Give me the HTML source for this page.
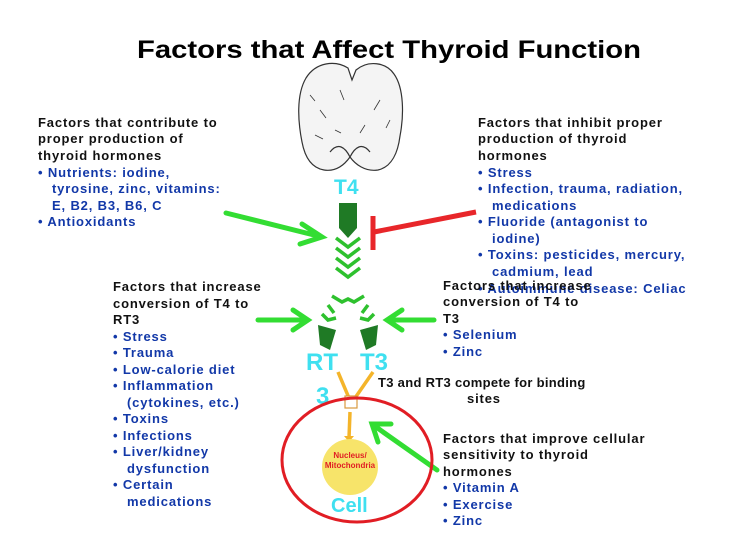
<!DOCTYPE html>
<html><head><meta charset="utf-8"><style>
body{margin:0;background:#fff;}
svg{display:block;font-family:"Liberation Sans",sans-serif;font-weight:bold;}
.k{fill:#111;font-size:13px;letter-spacing:0.85px}
.b{fill:#1238a8;font-size:13px;letter-spacing:0.85px}
</style></head><body>
<svg width="736" height="548" viewBox="0 0 736 548">
<rect width="736" height="548" fill="#fff"/>
<text x="137" y="58" font-size="25" fill="#000" textLength="504" lengthAdjust="spacingAndGlyphs">Factors that Affect Thyroid Function</text>
<!-- thyroid -->
<g fill="#f4f4f4" stroke="#333" stroke-width="1.2">
<path d="M348 68 C335 60 316 62 306 78 C296 95 298 122 302 142 C305 158 312 168 324 170 C337 172 345 164 350 157 C355 164 365 172 378 170 C392 167 398 152 400 136 C404 115 404 88 394 74 C386 62 368 60 356 70 L352 80 Z"/>
<path d="M330 152 C338 142 345 147 350 157 M370 152 C362 142 355 147 350 157" fill="none"/>
<path d="M320 110 l6 8 M380 100 l-6 10 M340 90 l4 10 M365 125 l-5 8 M315 135 l8 4 M310 95 l5 6 M390 120 l-4 8 M335 130 l6 3" fill="none" stroke-width="0.8"/>
</g>
<text x="334" y="194" font-size="21" fill="#3fe0f0">T4</text>
<!-- green flow -->
<path d="M339 203 L357 203 L357 228 L348 238 L339 228 Z" fill="#1f7a25"/>
<g fill="none" stroke="#2ec12e" stroke-width="3.5">
<path d="M336 238 l12 9 l12 -9"/><path d="M336 248 l12 9 l12 -9"/><path d="M336 258 l12 9 l12 -9"/><path d="M336 268 l12 9 l12 -9"/>
<path d="M332 296 l10 6 l6 -3 l6 3 l10 -6"/>
<path d="M328 305 l6 8 M322 314 l6 6 l8 -2"/>
<path d="M368 305 l-6 8 M374 314 l-6 6 l-8 -2"/>
</g>
<path d="M318 325 L336 330 L330 350 L320 345 Z" fill="#1f7a25"/>
<path d="M378 325 L360 330 L366 350 L376 345 Z" fill="#1f7a25"/>
<text x="306" y="370" font-size="24" fill="#3fe0f0">RT</text>
<text x="360" y="370" font-size="24" fill="#3fe0f0">T3</text>
<text x="316" y="404" font-size="24" fill="#3fe0f0">3</text>
<!-- green arrows -->
<g stroke="#33dd33" stroke-width="5" fill="none" stroke-linecap="round">
<path d="M226 213 L318 236"/><path d="M302 224 L322 237 L300 244"/>
<path d="M258 320 L305 320"/><path d="M293 310 L308 320 L293 330"/>
<path d="M434 320 L390 320"/><path d="M402 310 L387 320 L402 330"/>
<path d="M437 470 L376 427"/><path d="M378 442 L372 424 L391 424"/>
</g>
<!-- red inhibit -->
<g stroke="#e8262a" stroke-width="5" fill="none">
<path d="M476 212 L374 232"/><path d="M373 216 L373 250"/>
</g>
<!-- orange -->
<g stroke="#f4b42a" stroke-width="3.5" fill="none">
<path d="M338 372 L349 398"/><path d="M373 372 L355 398"/><path d="M350 412 L349 438"/>
</g>
<path d="M344 436 L349 442 L354 436 Z" fill="#f4b42a"/>
<rect x="345" y="396" width="12" height="12" fill="#fff" stroke="#d99a40" stroke-width="1.2"/>
<!-- cell -->
<ellipse cx="357" cy="460" rx="75" ry="62" fill="none" stroke="#e11d24" stroke-width="3"/>
<circle cx="350" cy="467" r="28" fill="#f7e46a"/>
<text x="350" y="458" font-size="8" fill="#e11d24" text-anchor="middle">Nucleus/</text>
<text x="350" y="468" font-size="8" fill="#e11d24" text-anchor="middle">Mitochondria</text>
<text x="331" y="512" font-size="20" fill="#3fe0f0">Cell</text>
<!-- left top -->
<text class="k" x="38" y="127">Factors that contribute to</text>
<text class="k" x="38" y="143">proper production of</text>
<text class="k" x="38" y="160">thyroid hormones</text>
<text class="b" x="38" y="177">• Nutrients: iodine,</text>
<text class="b" x="52" y="193">tyrosine, zinc, vitamins:</text>
<text class="b" x="52" y="210">E, B2, B3, B6, C</text>
<text class="b" x="38" y="226">• Antioxidants</text>
<!-- right top -->
<text class="k" x="478" y="127">Factors that inhibit proper</text>
<text class="k" x="478" y="143">production of thyroid</text>
<text class="k" x="478" y="160">hormones</text>
<text class="b" x="478" y="177">• Stress</text>
<text class="b" x="478" y="193">• Infection, trauma, radiation,</text>
<text class="b" x="492" y="210">medications</text>
<text class="b" x="478" y="226">• Fluoride (antagonist to</text>
<text class="b" x="492" y="243">iodine)</text>
<text class="b" x="478" y="259">• Toxins: pesticides, mercury,</text>
<text class="b" x="492" y="276">cadmium, lead</text>
<text class="b" x="478" y="293">• Autoimmune disease: Celiac</text>
<!-- left middle -->
<text class="k" x="113" y="291">Factors that increase</text>
<text class="k" x="113" y="308">conversion of T4 to</text>
<text class="k" x="113" y="324">RT3</text>
<text class="b" x="113" y="341">• Stress</text>
<text class="b" x="113" y="357">• Trauma</text>
<text class="b" x="113" y="374">• Low-calorie diet</text>
<text class="b" x="113" y="390">• Inflammation</text>
<text class="b" x="127" y="407">(cytokines, etc.)</text>
<text class="b" x="113" y="423">• Toxins</text>
<text class="b" x="113" y="440">• Infections</text>
<text class="b" x="113" y="456">• Liver/kidney</text>
<text class="b" x="127" y="473">dysfunction</text>
<text class="b" x="113" y="489">• Certain</text>
<text class="b" x="127" y="506">medications</text>
<!-- right middle -->
<text class="k" x="443" y="290">Factors that increase</text>
<text class="k" x="443" y="306">conversion of T4 to</text>
<text class="k" x="443" y="323">T3</text>
<text class="b" x="443" y="339">• Selenium</text>
<text class="b" x="443" y="356">• Zinc</text>
<text class="k" x="378" y="387" style="letter-spacing:0.3px">T3 and RT3 compete for binding</text>
<text class="k" x="467" y="403">sites</text>
<!-- bottom right -->
<text class="k" x="443" y="443">Factors that improve cellular</text>
<text class="k" x="443" y="459">sensitivity to thyroid</text>
<text class="k" x="443" y="476">hormones</text>
<text class="b" x="443" y="492">• Vitamin A</text>
<text class="b" x="443" y="509">• Exercise</text>
<text class="b" x="443" y="525">• Zinc</text>
</svg>
</body></html>
